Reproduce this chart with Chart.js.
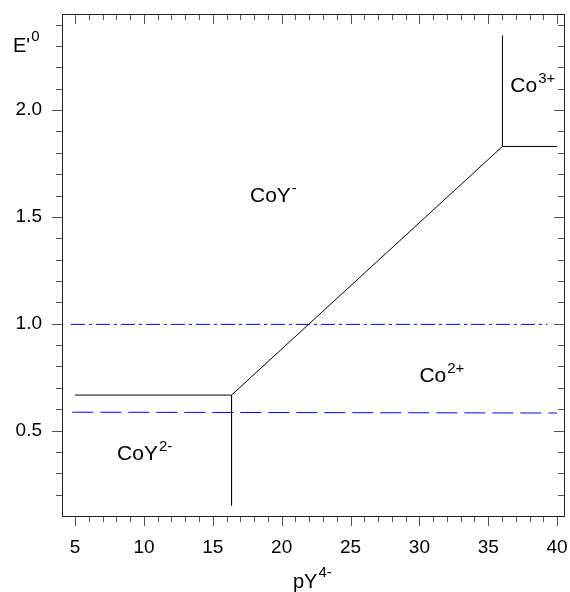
<!DOCTYPE html>
<html>
<head>
<meta charset="utf-8">
<script src="https://cdn.jsdelivr.net/npm/chart.js@4.4.1/dist/chart.umd.min.js"></script>
<style>
  body { margin: 0; background: #fff; }
  canvas { display: block; }
</style>
</head>
<body>
<canvas id="diagram" width="570" height="592"></canvas>
<script>
const FONT = '"Liberation Sans", Arial, sans-serif';

// Axis ticks
const xTicks = [5, 10, 15, 20, 25, 30, 35, 40];
const yTicks = [0.5, 1.0, 1.5, 2.0];

// Boundaries between predominance areas (pY4-, E'0)
const lowerPY = [5, 16.36];
const lowerE = [0.666, 0.666];
const stemPY = [16.36, 16.36];
const stemE = [0.666, 0.15];
const slopePY = [16.36, 36.03];
const slopeE = [0.666, 1.83];
const topStemPY = [36.03, 36.03];
const topStemE = [1.83, 2.35];
const upperPY = [36.03, 40];
const upperE = [1.83, 1.83];

// Reference couples (blue)
const dashDotPY = [4.7, 39.3];
const dashDotE = [0.997, 0.997];
const dashedPY = [4.8, 40];
const dashedE = [0.586, 0.582];

// Species labels
const speciesName = ['CoY', 'Co', 'CoY', 'Co'];
const speciesCharge = ['-', '2+', '2-', '3+'];
const speciesPY = [17.7, 30.0, 8.05, 36.6];
const speciesE = [1.571, 0.726, 0.364, 2.085];

function seg(xs, ys, color, dash) {
    return {
        data: xs.map((v, i) => ({ x: v, y: ys[i] })),
        showLine: true,
        borderColor: color,
        borderWidth: 1,
        borderDash: dash || [],
        pointRadius: 0,
        fill: false
    };
}

function supText(ctx, base, sup, x, y, size, supSize, rise) {
    ctx.font = size + 'px ' + FONT;
    ctx.fillText(base, x, y);
    const w = ctx.measureText(base).width;
    ctx.font = supSize + 'px ' + FONT;
    ctx.fillText(sup, x + w + 1, y - rise);
}

const frame = {
    id: 'frame',
    afterDatasetsDraw(chart) {
        const { ctx, chartArea: a, scales: { x, y } } = chart;
        ctx.save();
        ctx.lineWidth = 1;

        // ticks: outward on bottom/left, inward on top/right
        ctx.strokeStyle = '#555';
        ctx.beginPath();
        for (let v = 5; v <= 40; v++) {
            const px = Math.round(x.getPixelForValue(v)) + 0.5;
            const len = v % 5 === 0 ? 10 : 6;
            ctx.moveTo(px, a.bottom); ctx.lineTo(px, a.bottom + len);
            ctx.moveTo(px, a.top); ctx.lineTo(px, a.top + len);
        }
        for (let i = 2; i <= 24; i++) {
            const py = Math.round(y.getPixelForValue(i / 10)) + 0.5;
            const len = i % 5 === 0 ? 10 : 6;
            ctx.moveTo(a.left - len, py); ctx.lineTo(a.left, py);
            ctx.moveTo(a.right - len, py); ctx.lineTo(a.right, py);
        }
        ctx.stroke();

        ctx.strokeStyle = '#222';
        ctx.strokeRect(a.left + 0.5, a.top + 0.5, a.right - a.left, a.bottom - a.top);

        // species labels
        ctx.fillStyle = '#000';
        ctx.textAlign = 'left';
        ctx.textBaseline = 'alphabetic';
        speciesName.forEach((name, i) => {
            supText(ctx, name, speciesCharge[i],
                x.getPixelForValue(speciesPY[i]), y.getPixelForValue(speciesE[i]), 21, 15, 9);
        });

        // axis titles
        supText(ctx, "E'", '0', 13, 52, 20, 15, 11);
        supText(ctx, 'pY', '4-', 293, 588, 20, 15, 11);
        ctx.restore();
    }
};

new Chart(document.getElementById('diagram'), {
    type: 'scatter',
    data: {
        datasets: [
            seg(lowerPY, lowerE, '#000'),
            seg(stemPY, stemE, '#000'),
            seg(slopePY, slopeE, '#000'),
            seg(topStemPY, topStemE, '#000'),
            seg(upperPY, upperE, '#000'),
            seg(dashDotPY, dashDotE, '#0000ff', [14, 4, 3, 4]),
            seg(dashedPY, dashedE, '#0000ff', [21, 7])
        ]
    },
    options: {
        responsive: false,
        animation: false,
        layout: { padding: { top: 14, right: 6, left: 0, bottom: 0 } },
        plugins: {
            legend: { display: false },
            tooltip: { enabled: false }
        },
        scales: {
            x: {
                type: 'linear',
                min: 4.05,
                max: 40.5,
                afterBuildTicks: s => { s.ticks = xTicks.map(v => ({ value: v })); },
                afterFit: s => { s.height = 76; s.paddingLeft = 0; s.paddingRight = 0; },
                grid: { display: false, drawTicks: false },
                border: { display: false },
                ticks: {
                    font: { size: 19, family: FONT },
                    color: '#000',
                    padding: 20,
                    maxRotation: 0,
                    autoSkip: false
                }
            },
            y: {
                type: 'linear',
                min: 0.1,
                max: 2.45,
                afterBuildTicks: s => { s.ticks = yTicks.map(v => ({ value: v })); },
                afterFit: s => { s.width = 62; s.paddingTop = 0; s.paddingBottom = 0; },
                grid: { display: false, drawTicks: false },
                border: { display: false },
                ticks: {
                    font: { size: 19, family: FONT },
                    color: '#000',
                    padding: 20,
                    autoSkip: false,
                    callback: v => v.toFixed(1)
                }
            }
        }
    },
    plugins: [frame]
});
</script>
</body>
</html>
